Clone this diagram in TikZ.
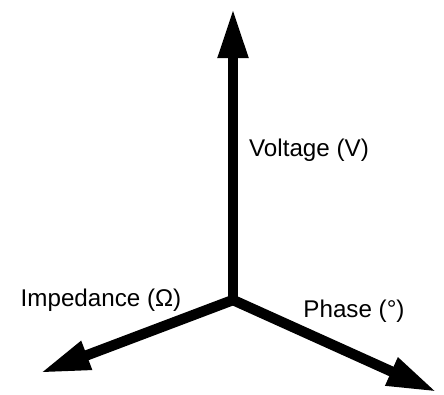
\documentclass[tikz,border=0pt]{standalone}
\usepackage{fontspec}
\setmainfont{Liberation Sans}
\usetikzlibrary{arrows.meta}

\begin{document}
\begin{tikzpicture}[x=0.025cm,y=-0.025cm,
    axis/.style={line width=0.26cm,-{Triangle[length=1.25cm,width=0.7cm]}},
    lbl/.style={inner sep=0pt,font=\fontsize{17.2}{20}\selectfont}]
            \useasboundingbox (0,0) rectangle (444,394);
            \coordinate (O) at (233,300);
            \coordinate (V) at (233,8);
            \coordinate (Z) at (40,373);
            \coordinate (P) at (437,392);

            \draw[axis] (O) -- (V);
            \draw[axis] (O) -- (Z);
            \draw[axis] (O) -- (P);
            \node[lbl] (volt) at (309,150) {Voltage (V)};
            \node[lbl] (imp) at (101,300) {Impedance (Ω)};
            \node[lbl] (phase) at (354,311) {Phase (°)};
        \end{tikzpicture}
\end{document}
